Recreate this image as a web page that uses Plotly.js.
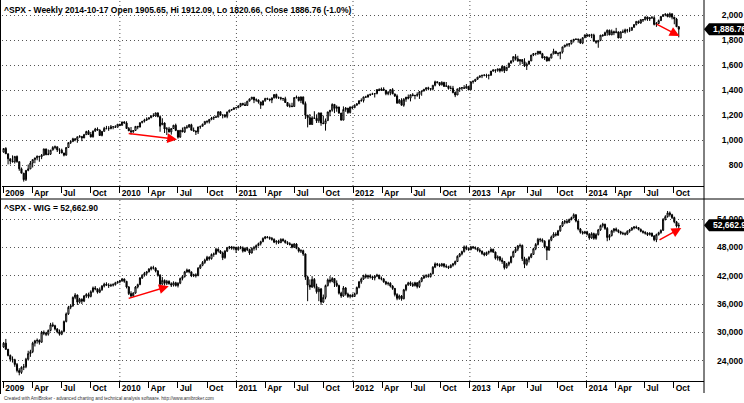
<!DOCTYPE html>
<html>
<head>
<meta charset="utf-8">
<script src="https://cdn.plot.ly/plotly-3.0.1.min.js"></script>
<style>
html,body{margin:0;padding:0;background:#fff;}
#chart{width:744px;height:403px;}
</style>
</head>
<body>
<div id="chart"></div>
<script>
// ---------- DATA (weekly bars, first bar week ending 2009-01-02) ----------
const firstWeek = '2009-01-02';

const spxOpen = [
903,932,890,850,832,826,869,827,770,735,683,757,769,816,843,857,870,866,878,929,883,887,919,940,946,921,919,896,879,940,979,987,1010,1004,1026,1029,1016,1043,1068,1044,1025,1071,1088,1080,1036,1069,1093,1091,1091,1106,1106,1102,1126,
1117,1145,1136,1092,1074,1066,1076,1109,1104,1139,1150,1160,1167,1178,1194,1192,1217,1187,1122,1136,1088,1089,1065,1092,1118,1077,1023,1078,1065,1103,1102,1122,1079,1072,1065,1105,1110,1126,1149,1146,1165,1176,1183,1183,1226,1199,1200,1189,1225,1240,1244,1257,
1258,1272,1293,1283,1276,1311,1329,1343,1320,1321,1304,1279,1314,1332,1328,1320,1337,1364,1340,1338,1333,1331,1300,1271,1272,1268,1340,1344,1316,1345,1292,1199,1179,1124,1177,1174,1154,1216,1136,1131,1155,1225,1238,1285,1253,1264,1216,1159,1244,1255,1220,1265,
1258,1278,1289,1315,1316,1345,1343,1361,1366,1370,1371,1404,1397,1408,1398,1370,1379,1403,1369,1353,1295,1318,1278,1326,1343,1335,1362,1355,1357,1363,1386,1391,1406,1418,1411,1407,1438,1466,1460,1441,1461,1429,1433,1412,1414,1380,1360,1409,1416,1418,1414,1430,
1402,1466,1472,1486,1503,1513,1518,1520,1516,1518,1551,1561,1557,1569,1553,1589,1555,1582,1614,1634,1667,1650,1631,1643,1627,1592,1606,1632,1680,1692,1692,1710,1691,1656,1664,1633,1655,1688,1710,1692,1691,1703,1745,1760,1762,1771,1798,1805,1806,1805,1775,1818,
1841,1831,1842,1839,1790,1783,1797,1839,1836,1859,1878,1841,1867,1858,1865,1816,1865,1863,1881,1878,1878,1901,1924,1949,1936,1963,1961,1985,1968,1978,1978,1925,1932,1955,1988,2003,2008,1986,2010,1983,1968,1905.65];
const spxHigh = [
934,943,890,851,877,870,876,827,780,735,758,804,832,845,857,876,871,888,930,930,924,920,951,956,946,934,931,898,943,980,996,1018,1013,1027,1039,1029,1049,1074,1080,1064,1076,1097,1101,1085,1072,1105,1113,1111,1120,1107,1118,1127,1130,
1145,1150,1150,1104,1104,1080,1112,1113,1139,1151,1170,1181,1181,1194,1214,1218,1220,1197,1174,1141,1104,1105,1092,1121,1131,1077,1079,1100,1103,1120,1128,1130,1100,1076,1105,1110,1131,1149,1158,1167,1185,1186,1196,1228,1227,1200,1208,1225,1241,1247,1260,1263,
1278,1294,1297,1302,1311,1331,1344,1343,1333,1323,1306,1315,1338,1339,1329,1339,1364,1371,1348,1346,1334,1346,1302,1293,1298,1341,1356,1344,1347,1347,1308,1199,1208,1190,1230,1205,1220,1220,1195,1172,1225,1239,1293,1285,1277,1266,1216,1269,1264,1256,1266,1270,
1285,1296,1315,1333,1345,1354,1363,1368,1378,1374,1405,1414,1420,1422,1398,1392,1406,1415,1370,1365,1328,1334,1335,1344,1364,1363,1375,1358,1381,1391,1394,1407,1419,1426,1414,1438,1475,1467,1464,1470,1465,1464,1434,1434,1433,1389,1409,1420,1424,1439,1448,1430,
1467,1472,1486,1503,1514,1518,1524,1530,1525,1552,1564,1563,1570,1574,1597,1593,1585,1618,1635,1668,1687,1674,1646,1648,1654,1620,1632,1680,1694,1698,1710,1710,1697,1670,1670,1665,1689,1730,1711,1703,1704,1745,1760,1775,1774,1798,1806,1813,1811,1810,1823,1844,
1850,1843,1850,1850,1800,1798,1840,1847,1867,1884,1883,1884,1875,1897,1868,1869,1884,1891,1889,1902,1901,1924,1950,1956,1964,1968,1986,1985,1983,1992,1991,1944,1964,1993,2005,2011,2009,2020,2011,1986,1977,1912.09];
const spxLow = [
899,888,805,805,821,812,818,754,735,667,672,750,767,780,814,838,826,847,875,878,879,880,919,926,904,888,895,869,875,940,968,987,990,978,1018,991,1016,1040,1041,1020,1020,1066,1075,1033,1029,1069,1086,1073,1086,1086,1096,1102,1115,
1117,1131,1090,1071,1044,1057,1075,1086,1100,1133,1140,1152,1165,1175,1188,1186,1181,1066,1122,1056,1040,1060,1043,1088,1071,1011,1018,1063,1056,1089,1102,1076,1069,1040,1048,1090,1108,1122,1133,1132,1158,1160,1178,1183,1193,1173,1177,1174,1220,1233,1243,1254,
1257,1263,1275,1275,1276,1310,1323,1295,1306,1291,1249,1279,1306,1322,1309,1295,1333,1330,1329,1318,1312,1296,1268,1259,1262,1267,1331,1308,1295,1282,1168,1101,1123,1121,1172,1136,1137,1114,1128,1075,1155,1190,1227,1215,1226,1209,1158,1159,1226,1209,1212,1248,
1258,1275,1289,1306,1300,1338,1341,1352,1360,1340,1366,1391,1392,1396,1358,1358,1358,1367,1344,1292,1292,1278,1266,1306,1325,1309,1351,1326,1346,1329,1354,1391,1397,1398,1397,1397,1429,1452,1431,1437,1426,1426,1403,1405,1373,1343,1360,1385,1398,1412,1413,1398,
1402,1451,1464,1482,1496,1495,1510,1498,1485,1514,1547,1538,1546,1540,1549,1536,1555,1577,1614,1622,1636,1630,1598,1608,1585,1560,1605,1632,1671,1676,1680,1685,1654,1640,1627,1633,1655,1687,1687,1671,1646,1692,1741,1747,1746,1764,1780,1800,1779,1772,1767,1818,
1828,1823,1815,1790,1770,1738,1791,1825,1834,1834,1839,1839,1839,1858,1815,1815,1859,1851,1859,1863,1874,1900,1916,1930,1930,1944,1958,1953,1952,1970,1917,1905,1929,1953,1988,1990,1983,1979,1965,1926,1905,1820.66];
const spxClose = [
932,890,850,832,826,869,827,770,735,683,757,769,816,843,857,870,866,878,929,883,887,919,940,946,921,919,896,879,940,979,987,1010,1004,1026,1029,1016,1043,1068,1044,1025,1071,1088,1080,1036,1069,1093,1091,1091,1106,1106,1102,1126,1115,
1145,1136,1092,1074,1066,1076,1109,1104,1139,1150,1160,1167,1178,1194,1192,1217,1187,1111,1136,1088,1089,1065,1092,1118,1077,1023,1078,1065,1103,1102,1122,1079,1072,1065,1105,1110,1126,1149,1146,1165,1176,1183,1183,1226,1199,1200,1189,1225,1240,1244,1257,1258,
1272,1293,1283,1276,1311,1329,1343,1320,1321,1304,1279,1314,1332,1328,1320,1337,1364,1340,1338,1333,1331,1300,1271,1272,1268,1340,1344,1316,1345,1292,1199,1179,1124,1177,1174,1154,1216,1136,1131,1155,1225,1238,1285,1253,1264,1216,1159,1244,1255,1220,1265,1258,
1278,1289,1315,1316,1345,1343,1361,1366,1370,1371,1404,1397,1408,1398,1370,1379,1403,1369,1353,1295,1318,1278,1326,1343,1335,1362,1355,1357,1363,1386,1391,1406,1418,1411,1407,1438,1466,1460,1441,1461,1429,1433,1412,1414,1380,1360,1409,1416,1418,1414,1430,1402,
1466,1472,1486,1503,1513,1518,1520,1516,1518,1551,1561,1557,1569,1553,1589,1555,1582,1614,1634,1667,1650,1631,1643,1627,1592,1606,1632,1680,1692,1692,1710,1691,1656,1664,1633,1655,1688,1710,1692,1691,1703,1745,1760,1762,1771,1798,1805,1806,1805,1775,1818,1841,
1831,1842,1839,1790,1783,1797,1839,1836,1859,1878,1841,1867,1858,1865,1816,1865,1863,1881,1878,1878,1901,1924,1949,1936,1963,1961,1985,1968,1978,1978,1925,1932,1955,1988,2003,2008,1986,2010,1983,1968,1906,1886.76];

const wigOpen = [
26900,27700,26400,25100,24300,24200,23200,21900,21500,22600,22700,24300,25500,25900,27700,28200,28300,27900,30000,29800,29600,30400,31600,31400,30700,30100,29600,30200,32300,33900,35300,35600,37400,37900,36400,37000,36600,37700,38000,37600,38600,39400,39200,38500,39000,39800,40200,40000,39900,40000,40100,40500,40700,
40900,41300,40800,39600,38200,37700,38300,39600,40100,41500,42100,42500,42800,43400,43700,43600,43000,42100,40200,41000,40400,40800,40300,40000,40500,39900,40400,41400,41800,42800,43200,42800,42000,42200,42000,43600,44200,44800,45300,45900,45600,46500,46600,47600,47200,46800,45800,47200,47900,48100,47800,48000,
47500,48000,47900,47200,47800,47500,46800,47800,47900,48400,48800,49200,49900,50200,50100,49900,49700,49100,49300,49000,49700,49400,49000,48800,48600,48000,48700,47800,47200,47300,46600,41700,40000,39600,41200,39700,38600,39200,36400,37400,39900,41100,40800,41400,40400,39900,38300,37700,39400,38100,37600,37800,
37600,38200,39500,40700,41300,42000,41700,42000,41700,41500,41900,42100,41400,41300,40700,40300,40400,39800,39300,38000,37200,37700,37100,39000,40000,40500,40200,39900,40500,39700,40800,41500,41900,42000,41800,42400,43800,44500,44300,44100,44500,44000,43900,43700,44200,44500,45000,46100,46600,47100,48100,47700,
47500,48100,47900,47800,47400,47200,46700,46400,46900,47100,47600,47000,45700,46000,45300,45000,43700,44400,44800,46000,47100,47600,48300,48400,45600,44400,45400,45900,46500,47700,48600,49700,49600,49300,48100,47400,49500,50200,50800,50600,51500,52500,53300,53500,53300,53900,54300,54900,53600,51900,51200,51000,
51300,50800,50000,50900,49900,50700,51700,52600,52900,52000,50100,50500,51500,51900,51600,51300,51000,50900,50800,51400,51700,52100,52300,52200,51800,51400,51200,51000,50700,51000,50400,49600,50700,51100,51600,53900,54500,55300,54900,54300,53400,52500];
const wigHigh = [
27950,28600,26500,25300,24900,24400,23500,22400,22800,23300,24600,26100,26300,28000,28400,28700,28500,30300,30400,30100,30600,32000,32100,31600,30900,30600,30400,32500,34200,35600,35900,37600,38300,38000,37300,37200,37900,38300,38400,38900,39700,39800,39300,39500,40000,40500,40600,40400,40300,40400,40700,40900,41100,
41500,41400,40900,39800,38700,38500,39800,40300,41700,42300,42800,43000,43600,44000,44100,43800,43200,42300,41700,41200,41100,41000,40600,40800,40700,40600,41600,42100,43000,43500,43400,42900,42400,42500,43800,44400,45100,45600,46200,46100,46700,46900,47900,47800,47400,47100,47400,48100,48300,48300,48200,48100,
48200,48300,48200,48000,48100,47700,48000,48300,48600,49000,49400,50100,50400,50400,50300,50200,49900,49500,49600,49900,49900,49600,49300,49100,48800,48900,48900,47900,47600,47500,46700,42000,41200,41900,41500,40300,39600,39400,38000,40100,41400,41900,41700,41500,41000,40100,38600,39800,39600,38400,38100,38200,
38400,39700,40900,41600,42200,42400,42200,42300,42000,42100,42400,42200,41800,41500,40900,40700,40600,40000,39400,38300,38000,37900,39200,40200,40700,40800,40600,40700,40600,41000,41700,42200,42300,42400,42600,44000,44800,44700,44600,44700,44600,44400,44100,44400,44700,45200,46300,46800,47300,48400,48400,48000,
48300,48300,48200,48000,47800,47300,47000,47100,47300,47800,47700,47100,46300,46100,45800,45100,44700,45000,46200,47300,48100,48500,48800,48600,46000,45700,46100,46800,47900,48900,50000,50000,49900,49500,48300,49700,50500,51200,51200,51700,52700,53600,53800,53900,54100,54500,55200,55000,53700,52100,51500,51500,
51500,51000,51200,51100,51000,51900,52800,53200,53000,52300,50800,51700,52100,52200,51800,51500,51300,51200,51600,51900,52300,52500,52600,52300,52000,51600,51400,51200,51200,51100,50600,50900,51300,51800,54200,54800,55700,55600,55100,54500,53600,53200];
const wigLow = [
26700,26300,24900,23800,23600,22700,21500,20900,21200,22000,22400,24000,24800,25600,27000,27600,27400,27800,29400,29200,29300,30200,31100,30400,29800,29300,29400,30000,32100,33700,34900,35400,37000,35800,36100,36000,36400,37300,37200,37400,38400,38900,38200,38300,38800,39500,39800,39400,39600,39700,39900,40300,40400,
40700,40500,39300,37900,37300,37500,38200,39300,40000,41300,41800,42100,42700,43100,43300,42700,41800,39700,40000,39900,40000,40100,39600,39700,39700,39500,40200,41000,41600,42600,42500,41700,41700,41600,41900,43400,44000,44500,45100,45200,45400,46000,46400,46900,46600,45300,45600,47000,47600,47500,47400,46800,
47300,47600,46900,47000,47200,46400,46700,47300,47400,48200,48400,49100,49700,49900,49600,49400,48900,48600,48700,48900,49200,48800,48500,48400,47800,47900,47600,46900,46800,46200,41100,36600,39000,39400,39300,38200,36600,35800,36200,37000,39700,40400,40600,39600,39600,38000,37300,37500,37800,37300,37200,37400,
37500,38000,39300,40300,41100,41400,41300,41400,41100,41000,41700,41200,41000,40500,40000,39900,39500,39000,37600,36800,36900,36700,37000,38700,39900,39800,39600,39700,39300,39400,40600,41300,41500,41600,41600,42300,43600,44000,43800,43900,43700,43600,43400,43600,43900,44200,44900,45900,46300,46900,47400,47300,
47400,47700,47500,47100,46900,46400,46100,46200,46500,46900,46800,45400,45200,45000,44500,43300,43500,44000,44600,45800,46800,47200,47900,45100,43600,44100,44800,45700,46400,47400,48400,49100,49000,47800,45300,47300,49300,50000,50300,50400,51300,52300,52900,53000,53200,53700,54100,53300,51600,50900,50700,50800,
50500,49600,49800,49600,49600,50500,51500,52200,51700,49300,49500,50300,51100,51300,51000,50700,50600,50500,50600,51100,51500,51800,51900,51600,51200,50900,50700,50400,50500,50200,49300,49100,50500,50900,51500,53700,54300,54500,54000,53100,52200,51900];
const wigClose = [
27700,26400,25100,24300,24200,23200,21900,21500,22600,22700,24300,25500,25900,27700,28200,28300,27900,30000,29800,29600,30400,31600,31400,30700,30100,29600,30200,32300,33900,35300,35600,37400,37900,36400,37000,36600,37700,38000,37600,38600,39400,39200,38500,39000,39800,40200,40000,39900,40000,40100,40500,40700,40900,
41300,40800,39600,38200,37700,38300,39600,40100,41500,42100,42500,42800,43400,43700,43600,43000,42100,40200,41000,40400,40800,40300,40000,40500,39900,40400,41400,41800,42800,43200,42800,42000,42200,42000,43600,44200,44800,45300,45900,45600,46500,46600,47600,47200,46800,45800,47200,47900,48100,47800,48000,47500,
48000,47900,47200,47800,47500,46800,47800,47900,48400,48800,49200,49900,50200,50100,49900,49700,49100,49300,49000,49700,49400,49000,48800,48600,48000,48700,47800,47200,47300,46600,41700,40000,39600,41200,39700,38600,39200,36400,37400,39900,41100,40800,41400,40400,39900,38300,37700,39400,38100,37600,37800,37600,
38200,39500,40700,41300,42000,41700,42000,41700,41500,41900,42100,41400,41300,40700,40300,40400,39800,39300,38000,37200,37700,37100,39000,40000,40500,40200,39900,40500,39700,40800,41500,41900,42000,41800,42400,43800,44500,44300,44100,44500,44000,43900,43700,44200,44500,45000,46100,46600,47100,48100,47700,47500,
48100,47900,47800,47400,47200,46700,46400,46900,47100,47600,47000,45700,46000,45300,45000,43700,44400,44800,46000,47100,47600,48300,48400,45600,44400,45400,45900,46500,47700,48600,49700,49600,49300,48100,47400,49500,50200,50800,50600,51500,52500,53300,53500,53300,53900,54300,54900,53600,51900,51200,51000,51300,
50800,50000,50900,49900,50700,51700,52600,52900,52000,50100,50500,51500,51900,51600,51300,51000,50900,50800,51400,51700,52100,52300,52200,51800,51400,51200,51000,50700,51000,50400,49600,50700,51100,51600,53900,54500,55300,54900,54300,53400,52500,52662.9];

// axis tick values
const spxTicks = [800, 1000, 1200, 1400, 1600, 1800, 2000];
const wigTicks = [24000, 30000, 36000, 42000, 48000, 54000];
const quarterMonths = ['', 'Apr', 'Jul', 'Oct'];
const years = [2009, 2010, 2011, 2012, 2013, 2014];

// hand-drawn red arrows: [tailDate, tailValue, headDate, headValue]
const spxArrows = [['2010-01-24', 1053, '2010-06-29', 1005], ['2014-08-04', 1933, '2014-10-19', 1832]];
const wigArrows = [['2010-01-24', 37100, '2010-06-03', 39750], ['2014-08-13', 49400, '2014-10-25', 52100]];

const spxTitle = '^SPX - Weekly 2014-10-17 Open 1905.65, Hi 1912.09, Lo 1820.66, Close 1886.76 (-1.0%)';
const wigTitle = '^SPX - WIG = 52,662.90';
const spxLast = 1886.76, wigLast = 52662.90;
const spxLastText = '1,886.76', wigLastText = '52,662.90';
const footer = 'Created with AmiBroker - advanced charting and technical analysis software. http://www.amibroker.com';

// ---------- BUILD ----------
const W = 744, H = 403;
const t0 = Date.UTC(2009, 0, 2);
const dates = spxClose.map((_, i) => new Date(t0 + i * 7 * 864e5).toISOString().slice(0, 10));

const tickvals = [], ticktext = [];
years.forEach(y => [0, 3, 6, 9].forEach((m, k) => {
  tickvals.push(new Date(Date.UTC(y, m, 1)).toISOString().slice(0, 10));
  ticktext.push(k === 0 ? String(y) : quarterMonths[k]);
}));

const FONT = 'Arial, "Liberation Sans", sans-serif';
const px2y = (p) => 1 - p / H;
const px2x = (p) => p / W;
const xDom = [px2x(2), px2x(704)];
const xRange = ['2008-12-28', '2015-01-04'];
const y1Dom = [px2y(186), 1];
const y2Dom = [px2y(381), px2y(199)];
const y1Range = [632, 2120];
const y2Range = [19690, 58240];

function candles(o, h, l, c, xa, ya) {
  return {
    type: 'candlestick', x: dates, open: o, high: h, low: l, close: c,
    xaxis: xa, yaxis: ya, hoverinfo: 'skip', showlegend: false, whiskerwidth: 0,
    increasing: {line: {color: '#000', width: 1}, fillcolor: '#fff'},
    decreasing: {line: {color: '#000', width: 1}, fillcolor: '#000'}
  };
}

function xAxis(anchor) {
  return {
    type: 'date', domain: xDom, range: xRange, anchor: anchor,
    tickmode: 'array', tickvals: tickvals, ticktext: ticktext,
    ticks: 'outside', ticklen: 6, tickwidth: 1, tickcolor: '#000',
    ticklabelposition: 'outside right', ticklabelstandoff: -1, ticklabelshift: 1,
    tickfont: {family: FONT, size: 8.5, color: '#000', weight: 'bold'},
    showline: true, linecolor: '#000', linewidth: 1,
    showgrid: false, zeroline: false, fixedrange: true,
    rangeslider: {visible: false}
  };
}
function yAxis(dom, range, tv) {
  return {
    domain: dom, range: range, anchor: 'free', position: px2x(743), side: 'left',
    tickmode: 'array', tickvals: tv, tickformat: ',d', ticks: '',
    tickfont: {family: FONT, size: 8.5, color: '#000', weight: 'bold'},
    showline: false, zeroline: false, fixedrange: true,
    showgrid: true, gridcolor: '#555', gridwidth: 1, griddash: '1px,3px'
  };
}

const shapes = [];
// year dotted lines
years.slice(1).forEach(y => {
  const d = y + '-01-01';
  shapes.push({type: 'line', xref: 'x', yref: 'y domain', x0: d, x1: d, y0: 0, y1: 1,
    line: {color: '#555', width: 1, dash: '1px,3px'}, layer: 'below'});
  shapes.push({type: 'line', xref: 'x2', yref: 'y2 domain', x0: d, x1: d, y0: 0, y1: 1,
    line: {color: '#555', width: 1, dash: '1px,3px'}, layer: 'below'});
});
// frame lines
shapes.push({type: 'line', xref: 'paper', yref: 'paper', x0: px2x(704), x1: px2x(704), y0: px2y(393), y1: 1, line: {color: '#000', width: 1}});
shapes.push({type: 'line', xref: 'paper', yref: 'paper', x0: 0, x1: 1, y0: px2y(199), y1: px2y(199), line: {color: '#000', width: 1}});
shapes.push({type: 'line', xref: 'paper', yref: 'paper', x0: px2x(0.5), x1: px2x(0.5), y0: px2y(394), y1: 1, line: {color: '#000', width: 1}});

// last-value markers
function marker(yref, v, range, domPx) {
  const h = (range[1] - range[0]) / domPx * 6;
  const a = px2x(704), b = px2x(709), c = 1.01;
  return {type: 'path', xref: 'paper', yref: yref, layer: 'above',
    path: `M ${a} ${v} L ${b} ${v + h} L ${c} ${v + h} L ${c} ${v - h} L ${b} ${v - h} Z`,
    fillcolor: '#000', line: {color: '#000', width: 0}};
}
shapes.push(marker('y', spxLast, y1Range, 186));
shapes.push(marker('y2', wigLast, y2Range, 182));

const annotations = [];
const txt = (t, xp, yp, size, color, weight) => ({
  text: t, xref: 'paper', yref: 'paper', x: px2x(xp), y: px2y(yp), xanchor: 'left', yanchor: 'middle',
  showarrow: false, font: {family: FONT, size: size, color: color, weight: weight}
});
annotations.push(txt(spxTitle, 2, 10, 8.5, '#000', 'bold'));
annotations.push(txt(wigTitle, 2, 208, 8.5, '#000', 'bold'));
annotations.push(txt(footer, 2, 398.5, 4.6, '#333', 'normal'));
annotations.push({text: spxLastText, xref: 'paper', yref: 'y', x: px2x(711), y: spxLast, xanchor: 'left', yanchor: 'middle',
  showarrow: false, font: {family: FONT, size: 8.5, color: '#fff', weight: 'bold'}});
annotations.push({text: wigLastText, xref: 'paper', yref: 'y2', x: px2x(711), y: wigLast, xanchor: 'left', yanchor: 'middle',
  showarrow: false, font: {family: FONT, size: 8.5, color: '#fff', weight: 'bold'}});

function arrow(a, xa, ya) {
  return {text: '', x: a[2], y: a[3], ax: a[0], ay: a[1], xref: xa, yref: ya, axref: xa, ayref: ya,
    showarrow: true, arrowhead: 2, arrowsize: 1.3, arrowwidth: 1.5, arrowcolor: '#f00', standoff: 0, startstandoff: 0};
}
spxArrows.forEach(a => annotations.push(arrow(a, 'x', 'y')));
wigArrows.forEach(a => annotations.push(arrow(a, 'x2', 'y2')));

const layout = {
  width: W, height: H, margin: {l: 0, r: 0, t: 0, b: 0, pad: 0},
  paper_bgcolor: '#fff', plot_bgcolor: '#fff', showlegend: false,
  font: {family: FONT, size: 9, color: '#000'},
  xaxis: xAxis('y'), xaxis2: xAxis('y2'),
  yaxis: yAxis(y1Dom, y1Range, spxTicks), yaxis2: yAxis(y2Dom, y2Range, wigTicks),
  shapes: shapes, annotations: annotations
};

Plotly.newPlot('chart', [
  candles(spxOpen, spxHigh, spxLow, spxClose, 'x', 'y'),
  candles(wigOpen, wigHigh, wigLow, wigClose, 'x2', 'y2')
], layout, {staticPlot: true, displayModeBar: false});
</script>
</body>
</html>
